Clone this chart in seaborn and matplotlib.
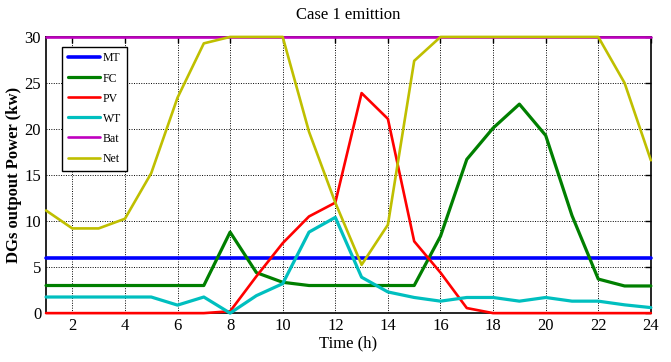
import numpy as np
import pandas as pd
import matplotlib
matplotlib.use("Agg")
import matplotlib.pyplot as plt
import seaborn as sns

hours = list(range(1, 25))
MT = [6]*24
FC = [3, 3, 3, 3, 3, 3, 3, 8.8, 4.4, 3.35, 3, 3, 3, 3, 3, 8.35, 16.7, 20.1, 22.7, 19.3, 10.6, 3.7, 2.95, 2.95]
PV = [0, 0, 0, 0, 0, 0, 0, 0.2, 4.0, 7.6, 10.5, 12.0, 23.9, 21.1, 7.8, 4.4, 0.55, 0, 0, 0, 0, 0, 0, 0]
WT = [1.75, 1.75, 1.75, 1.75, 1.75, 0.87, 1.75, 0, 1.9, 3.2, 8.8, 10.4, 3.9, 2.3, 1.7, 1.3, 1.7, 1.7, 1.3, 1.7, 1.3, 1.3, 0.9, 0.6]
Bat = [30]*24
Net = [11.15, 9.2, 9.2, 10.25, 15.2, 23.4, 29.3, 30, 30, 30, 19.7, 12.0, 5.25, 9.6, 27.4, 30, 30, 30, 30, 30, 30, 30, 25.0, 16.6]

series_names = ["MT", "FC", "PV", "WT", "Bat", "Net"]
series_vals = [MT, FC, PV, WT, Bat, Net]
colors = ["#0000ff", "#007f00", "#ff0000", "#00bfbf", "#bf00bf", "#bfbf00"]
widths = [2.6, 2.3, 1.9, 2.3, 1.9, 1.9]

df = pd.DataFrame({
    "Time": np.tile(hours, len(series_names)),
    "Power": np.concatenate(series_vals),
    "Source": np.repeat(series_names, len(hours)),
})

sns.set_style("white")
plt.rcParams["font.family"] = ["Liberation Serif", "DejaVu Serif"]
plt.rcParams["text.color"] = "black"
plt.rcParams["axes.labelcolor"] = "black"

fig = plt.figure(figsize=(6.71, 3.62), dpi=100)
ax = fig.add_axes([0.0686, 0.135, 0.9014, 0.763])

for name, col, lw in zip(series_names, colors, widths):
    sub = df[df["Source"] == name]
    sns.lineplot(data=sub, x="Time", y="Power", color=col, linewidth=lw, ax=ax, label=name)
for ln in ax.get_lines():
    ln.set_clip_on(False)

ax.set_xlim(1, 24)
ax.set_ylim(0, 30)
ax.set_xticks(range(2, 25, 2))
ax.set_yticks(range(0, 31, 5))
ax.grid(True, color="black", linestyle=(0, (1, 1.5)), linewidth=0.7)
ax.tick_params(direction="in", length=4, width=1, top=True, right=True, labelsize=12, colors="black")
for s in ax.spines.values():
    s.set_visible(True)
    s.set_color("black")
    s.set_linewidth(1.2)
    s.set_zorder(1)

ax.set_title("Case 1 emittion", fontsize=12, pad=13, color="black")
ax.set_xlabel("Time (h)", fontsize=12, labelpad=1, color="black")
ax.set_ylabel("DGs outpout Power (kw)", fontsize=12, fontweight="bold", labelpad=2, color="black")

leg = ax.legend(loc="upper left", bbox_to_anchor=(0.026, 0.965), borderaxespad=0, fontsize=8.5,
                frameon=True, fancybox=False, edgecolor="black", framealpha=1, handlelength=2.7,
                labelspacing=0.68, borderpad=0.5, handletextpad=0.3)
leg.get_frame().set_linewidth(1.0)
for t in leg.get_texts():
    t.set_color("black")

fig.savefig("out.png", dpi=100)
